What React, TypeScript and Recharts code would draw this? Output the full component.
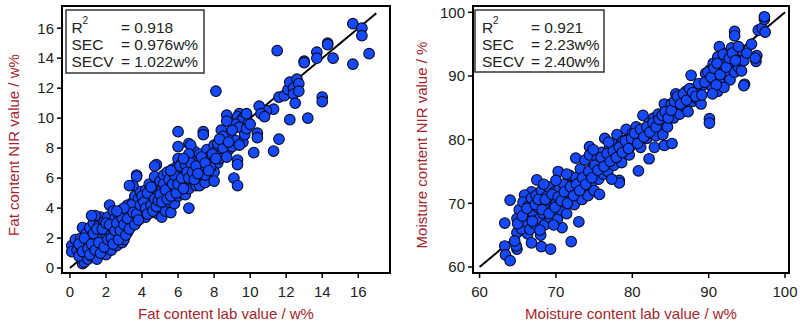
import React from 'react';
import { ScatterChart, Scatter, XAxis, YAxis, ReferenceArea, ReferenceLine } from 'recharts';

const FONT = '"Liberation Sans", Arial, Helvetica, sans-serif';
const TITLE_RED = '#a3262b';
const DOT_BLUE = '#1449ff';

// Fat: [lab value, NIR value] in w%
const fatPoints: [number, number][] = [
  [0.1, 1.5], [0.1, 1.1], [0.3, 1.9], [0.7, 0.3], [0.8, 0.4], [0.4, 1.2], [0.5, 0.8], [0.6, 1.4],
  [0.6, 2.0], [0.7, 2.7], [0.8, 1.6], [0.9, 1.0], [0.9, 2.3], [1.0, 0.6], [1.0, 1.8], [1.1, 1.2],
  [1.1, 2.7], [1.2, 0.8], [1.2, 2.1], [1.3, 1.5], [1.3, 3.0], [1.4, 0.9], [1.4, 2.4], [1.5, 1.9],
  [1.5, 0.6], [1.6, 2.8], [1.6, 1.3], [1.7, 3.4], [1.7, 2.2], [1.8, 1.0], [1.8, 1.7], [1.9, 2.5],
  [1.9, 3.1], [2.0, 1.4], [2.0, 2.0], [2.0, 0.9], [1.4, 3.5], [1.2, 3.5], [2.2, 4.2],
  [2.1, 2.8], [2.1, 3.4], [2.2, 1.6], [2.2, 2.3], [2.3, 3.0], [2.3, 1.2], [2.4, 3.8], [2.4, 2.6],
  [2.5, 1.9], [2.5, 3.3], [2.6, 2.2], [2.6, 1.5], [2.7, 3.6], [2.7, 2.8], [2.8, 2.0], [2.8, 3.1],
  [2.9, 1.7], [2.9, 3.9], [3.0, 2.5], [3.0, 3.4], [3.0, 1.9], [3.1, 2.9], [3.1, 3.7], [3.2, 4.2],
  [3.2, 2.4], [3.3, 3.2], [3.3, 4.0], [3.4, 2.8], [3.4, 3.6], [3.5, 4.4], [3.5, 3.0], [3.6, 4.8],
  [3.6, 3.4], [3.7, 4.0], [3.7, 3.1], [3.8, 4.6], [3.8, 3.8], [3.9, 3.3], [3.9, 5.1], [4.0, 4.2],
  [4.0, 3.6], [3.7, 6.2], [3.7, 6.1], [3.5, 5.5], [3.3, 5.5], [4.8, 6.9], [4.7, 6.8],
  [4.1, 4.8], [4.1, 3.9], [4.2, 3.4], [4.2, 5.2], [4.3, 4.4], [4.4, 4.0], [4.4, 5.6], [4.5, 4.7],
  [4.5, 3.7], [4.6, 5.0], [4.6, 4.3], [4.7, 6.1], [4.7, 3.9], [4.8, 5.4], [4.8, 4.6], [4.9, 3.6],
  [4.9, 5.0], [5.0, 4.2], [5.0, 5.8], [5.0, 4.0], [5.1, 5.2], [5.1, 3.4], [5.2, 4.5], [5.2, 6.2],
  [5.3, 4.8], [5.3, 3.8], [5.4, 5.6], [5.4, 6.4], [5.5, 4.4], [5.5, 5.1], [5.6, 3.7], [5.6, 5.9],
  [5.7, 4.9], [5.7, 6.6], [5.8, 5.3], [5.8, 4.3], [5.9, 6.0], [5.9, 5.6], [6.0, 4.8], [6.0, 6.9],
  [6.0, 7.3], [6.1, 5.4], [6.1, 6.3], [6.2, 5.0], [6.2, 7.0], [6.3, 5.9], [6.3, 6.6], [6.4, 4.9],
  [6.4, 6.2], [6.5, 7.4], [6.5, 5.6], [6.6, 6.8], [6.6, 5.3], [6.7, 6.1], [6.8, 7.2], [6.8, 5.8],
  [6.9, 6.5], [6.9, 7.8], [7.0, 6.0], [7.0, 5.5], [6.6, 4.0], [7.2, 5.5], [7.5, 5.7],
  [7.4, 9.1], [7.4, 8.9], [6.0, 9.1], [6.0, 8.1], [6.6, 8.3], [6.7, 8.2], [6.6, 7.6],
  [7.1, 7.0], [7.2, 6.4], [7.2, 7.6], [7.3, 6.8], [7.4, 7.3], [7.5, 6.2], [7.6, 7.9], [7.7, 7.1],
  [7.8, 7.5], [7.9, 6.9], [8.0, 7.7], [8.0, 8.2], [8.2, 8.0], [8.8, 7.9], [8.4, 7.6], [8.2, 7.0],
  [8.0, 6.4], [8.0, 5.8], [7.8, 6.7], [8.2, 8.3], [8.3, 7.3], [8.5, 8.0], [8.6, 8.6], [8.7, 7.4],
  [8.9, 8.9], [9.0, 8.1], [8.1, 11.8], [9.4, 10.3], [9.3, 10.1], [9.6, 10.0], [9.5, 9.8],
  [9.2, 9.6], [8.7, 10.2], [8.7, 9.8], [8.4, 9.2], [8.5, 8.8], [9.2, 8.5], [9.6, 8.4], [9.4, 8.2],
  [9.3, 7.2], [9.3, 6.9], [9.1, 6.0], [9.3, 5.5], [9.4, 9.4], [9.7, 8.9], [9.9, 9.7],
  [10.4, 9.0], [10.4, 8.7], [10.2, 7.7], [9.8, 9.3], [11.3, 10.6], [10.9, 10.5], [10.5, 10.8],
  [10.6, 10.3], [10.8, 10.1], [11.6, 8.6], [11.3, 7.8], [11.5, 14.5], [11.6, 11.4], [11.9, 11.5],
  [12.1, 11.9], [12.2, 12.4], [12.4, 12.0], [12.4, 11.6], [12.6, 12.6], [12.7, 12.3], [12.7, 11.8],
  [12.5, 11.0], [12.2, 9.9], [13.2, 10.0], [14.0, 11.4], [14.0, 11.1], [13.0, 13.8], [13.0, 13.7],
  [13.7, 14.4], [13.7, 14.0], [14.3, 15.0], [14.3, 14.9], [14.6, 14.0], [15.7, 16.3], [16.2, 16.0],
  [16.2, 15.5], [15.7, 13.6], [16.6, 14.3],
  [0.5, 1.6], [0.7, 1.1], [0.8, 2.0], [1.0, 1.3], [1.1, 0.9], [1.2, 1.6], [1.3, 2.3], [1.4, 1.2],
  [1.5, 2.6], [1.6, 1.7], [1.7, 1.0], [1.8, 2.6], [1.9, 1.4], [2.0, 3.0], [2.1, 1.9], [2.2, 2.9],
  [2.3, 2.0], [2.4, 1.6], [2.5, 2.5], [2.6, 3.0], [2.7, 1.9], [2.8, 2.5], [2.9, 3.3], [3.0, 2.9],
  [3.1, 2.2], [3.2, 3.3], [3.3, 2.6], [3.4, 4.2], [3.5, 3.7], [3.6, 2.9], [3.7, 3.6], [3.8, 3.2],
  [3.9, 4.2], [4.0, 4.8], [4.1, 4.4], [4.2, 4.0], [4.3, 3.6], [4.3, 5.0], [4.5, 4.2], [4.6, 3.8],
  [4.7, 4.6], [4.8, 4.1], [4.9, 4.5], [5.0, 4.9], [5.1, 4.4], [5.2, 5.6], [5.3, 5.2], [5.4, 4.6],
  [5.5, 5.9], [5.6, 4.8], [5.7, 5.6], [5.8, 6.2], [5.9, 5.0], [6.0, 5.6], [6.1, 6.8], [6.2, 6.0],
  [6.3, 5.3], [6.4, 6.9], [6.5, 6.4], [6.6, 6.0], [6.7, 7.0], [6.8, 6.4], [6.9, 5.9], [7.0, 6.8],
  [7.1, 6.3], [7.3, 7.4], [7.5, 7.0], [7.7, 6.5], [7.9, 7.6], [8.1, 7.3], [8.3, 8.6], [8.8, 8.4],
  [9.0, 9.2], [9.8, 10.3], [10.0, 9.6], [3.0, 4.0], [2.6, 3.8], [4.5, 5.4], [5.6, 6.5], [6.3, 7.3],
];

// Moisture: [lab value, NIR value] in w%
const moisturePoints: [number, number][] = [
  [63.3, 63.3], [63.4, 61.9], [64.0, 61.0], [63.3, 66.9], [64.9, 62.8], [64.8, 63.3], [64.0, 70.5],
  [64.9, 65.4], [66.3, 65.2], [66.8, 63.8], [68.1, 63.2], [69.3, 62.8], [72.0, 64.0], [68.0, 65.0],
  [70.8, 66.2], [73.0, 67.1], [67.5, 73.7], [66.8, 71.8], [65.9, 71.3], [70.3, 75.0], [72.6, 77.1],
  [64.6, 64.1], [64.9, 67.6], [65.2, 69.0], [65.5, 66.0], [65.7, 70.2], [66.0, 68.1], [66.2, 67.0],
  [66.4, 69.6], [66.6, 65.9], [66.8, 70.8], [67.0, 68.5], [67.2, 66.8], [67.4, 71.2], [67.6, 69.4],
  [67.8, 67.6], [68.0, 70.2], [68.1, 72.0], [68.3, 68.4], [68.5, 66.6], [68.7, 71.0], [68.9, 69.2],
  [69.0, 72.6], [69.2, 67.8], [69.4, 70.4], [69.6, 68.9], [69.8, 71.8], [70.0, 70.0], [70.2, 67.5],
  [70.4, 72.2], [70.6, 69.0], [70.8, 71.2], [71.0, 73.0], [71.2, 70.2], [71.4, 68.4], [71.6, 72.0],
  [71.8, 74.4], [72.0, 70.8], [72.2, 72.8], [72.4, 69.8], [72.6, 74.0], [72.8, 71.6], [73.0, 73.2],
  [73.2, 75.4], [73.4, 70.6], [73.6, 72.4], [73.8, 76.8], [74.0, 74.0], [74.2, 71.2], [74.4, 78.9],
  [74.4, 77.6], [74.6, 73.0], [74.8, 75.6], [75.0, 72.0], [75.2, 74.6], [75.4, 77.0], [75.6, 73.8],
  [75.8, 76.0], [76.0, 78.0], [76.2, 74.6], [76.4, 80.2], [76.6, 76.6], [76.8, 75.0], [77.0, 78.6],
  [77.2, 77.0], [77.4, 79.4], [77.6, 76.0], [77.8, 78.2], [78.0, 80.8], [78.2, 77.4], [78.4, 79.0],
  [78.6, 76.4], [78.8, 79.8], [79.0, 78.0], [79.2, 81.6], [79.4, 80.0], [79.6, 77.6], [79.8, 79.0],
  [80.0, 81.0], [78.3, 73.6], [78.3, 73.2], [80.8, 75.1], [82.2, 77.0], [82.9, 78.8], [84.2, 79.1],
  [85.2, 79.4], [80.2, 79.6], [80.5, 82.0], [80.8, 80.4], [81.1, 78.8], [81.4, 83.8], [81.6, 81.4],
  [81.9, 80.2], [82.2, 82.6], [82.5, 81.0], [82.8, 83.4], [83.1, 80.6], [83.4, 84.0], [83.7, 82.2],
  [84.0, 80.8], [84.2, 85.6], [84.4, 83.0], [84.6, 82.0], [84.8, 84.4], [85.1, 85.6], [85.4, 83.4],
  [85.7, 87.2], [86.0, 85.0], [86.2, 84.0], [86.5, 86.4], [86.8, 85.2], [87.0, 87.6], [87.3, 84.4],
  [87.6, 86.8], [87.9, 86.0], [88.2, 88.0], [87.7, 90.1], [88.5, 86.4], [88.8, 87.6], [89.0, 85.6],
  [89.3, 88.6], [89.6, 90.4], [89.9, 89.2], [90.1, 83.3], [90.1, 82.6], [90.2, 91.0], [90.4, 88.4],
  [90.6, 92.0], [90.8, 89.6], [91.0, 90.6], [91.2, 93.0], [91.2, 87.6], [91.4, 94.6], [91.6, 91.2],
  [91.8, 89.0], [92.0, 92.6], [92.2, 90.2], [92.4, 93.6], [92.6, 91.6], [92.8, 89.4], [93.0, 94.4],
  [93.2, 92.0], [93.4, 90.6], [93.6, 93.0], [93.9, 91.4], [94.2, 94.0], [94.6, 92.4], [95.0, 93.6],
  [93.4, 97.0], [93.4, 96.3], [95.6, 95.0], [94.7, 88.7], [94.6, 88.5], [94.3, 90.8], [96.3, 93.2],
  [96.2, 92.3], [96.1, 92.8], [96.5, 97.2], [97.0, 97.5], [97.4, 96.9], [97.3, 98.9], [97.3, 99.3],
  [65.0, 66.8], [65.6, 68.0], [66.2, 69.2], [66.9, 67.2], [67.3, 69.8], [67.7, 70.6], [68.2, 69.0],
  [68.6, 70.6], [69.1, 68.4], [69.5, 71.4], [69.9, 69.4], [70.3, 71.0], [70.7, 70.4], [71.1, 71.8],
  [71.5, 70.0], [71.9, 72.6], [72.3, 71.2], [72.7, 73.0], [73.1, 72.0], [73.5, 74.0], [73.9, 73.0],
  [74.3, 75.0], [74.7, 74.0], [75.1, 76.0], [75.5, 75.2], [75.9, 77.2], [76.3, 75.8], [76.7, 77.8],
  [77.1, 76.6], [77.5, 78.2], [77.9, 77.2], [78.3, 78.8], [78.7, 78.0], [79.1, 79.8], [79.5, 78.6],
  [79.9, 80.2], [80.3, 81.0], [80.7, 79.4], [81.1, 81.6], [81.5, 80.4], [81.9, 82.0], [82.3, 81.2],
  [82.7, 82.6], [83.1, 82.0], [83.5, 83.2], [83.9, 83.8], [84.3, 84.4], [84.7, 83.4], [85.1, 84.6],
  [85.5, 86.0], [85.9, 86.8], [86.3, 85.6], [86.7, 87.2], [87.1, 86.2], [87.5, 88.0], [87.9, 87.4],
  [88.3, 86.8], [88.7, 88.8], [89.1, 87.0], [89.5, 89.0], [89.9, 90.6], [90.3, 89.8], [90.7, 91.2],
  [91.1, 92.0], [91.5, 90.2], [91.9, 93.4], [92.3, 91.4], [92.7, 92.8], [93.1, 93.6], [93.5, 92.4],
  [93.9, 94.6], [92.0, 88.2], [91.0, 88.6], [90.5, 87.2], [68.4, 73.0], [70.0, 73.6], [71.4, 74.6],
  [69.7, 66.6], [67.9, 65.8], [75.7, 71.4], [77.3, 73.8], [76.9, 79.6], [74.9, 78.4],
];

const fatTicks = [0, 2, 4, 6, 8, 10, 12, 14, 16];
const moistureTicks = [60, 70, 80, 90, 100];

const fatStats = [
  { label: 'R', sup: '2', value: '= 0.918' },
  { label: 'SEC', sup: '', value: '= 0.976w%' },
  { label: 'SECV', sup: '', value: '= 1.022w%' },
];
const moistureStats = [
  { label: 'R', sup: '2', value: '= 0.921' },
  { label: 'SEC', sup: '', value: '= 2.23w%' },
  { label: 'SECV', sup: '', value: '= 2.40w%' },
];

const toRows = (pts: [number, number][]) => pts.map(([x, y]) => ({ x, y }));

const Dot = (props: any) => (
  <circle cx={props.cx} cy={props.cy} r={5.3} fill={DOT_BLUE} stroke="#0b0b20" strokeWidth={1.1} />
);

type PanelProps = {
  left: number;
  points: [number, number][];
  xDomain: [number, number];
  yDomain: [number, number];
  xTicks: number[];
  yTicks: number[];
  diag: [number, number];
  xTitle: string;
  yTitle: string;
  axisWidth: number;
  rightMargin: number;
  yTitleX: number;
  stats: { label: string; sup: string; value: string }[];
  box: { x: number; y: number; w: number; h: number; labelX: number; valueX: number };
};

const Panel = (p: PanelProps) => {
  const tickStyle = { fill: '#222', fontSize: 15, fontFamily: FONT };
  const yTitle = () => {
    const cy = 145;
    return (
      <text
        x={p.yTitleX}
        y={cy}
        transform={`rotate(-90 ${p.yTitleX} ${cy})`}
        textAnchor="middle"
        dominantBaseline="central"
        fill={TITLE_RED}
        fontSize={15}
        fontFamily={FONT}
      >
        {p.yTitle}
      </text>
    );
  };
  const rowY = [32.5, 49.5, 66.5];
  return (
    <div style={{ position: 'absolute', left: p.left, top: 0, width: 400, height: 332 }}>
      <ScatterChart width={400} height={332} margin={{ top: 6, right: p.rightMargin, bottom: 0, left: 0 }}>
        <XAxis
          type="number"
          dataKey="x"
          domain={p.xDomain}
          ticks={p.xTicks}
          allowDataOverflow
          height={59}
          tickSize={5}
          tickMargin={8}
          axisLine={false}
          tickLine={{ stroke: '#000', strokeWidth: 1.5 }}
          tick={tickStyle}
          label={{ value: p.xTitle, position: 'insideBottom', offset: 13, fill: TITLE_RED, fontSize: 15, fontFamily: FONT }}
        />
        <YAxis
          type="number"
          dataKey="y"
          domain={p.yDomain}
          ticks={p.yTicks}
          allowDataOverflow
          width={p.axisWidth}
          tickSize={5}
          tickMargin={3}
          axisLine={false}
          tickLine={{ stroke: '#000', strokeWidth: 1.5 }}
          tick={tickStyle}
          label={yTitle}
        />
        <ReferenceArea
          x1={p.xDomain[0]}
          x2={p.xDomain[1]}
          y1={p.yDomain[0]}
          y2={p.yDomain[1]}
          fill="none"
          fillOpacity={0}
          stroke="#000"
          strokeWidth={2}
          ifOverflow="visible"
        />
        <Scatter data={toRows(p.points)} shape={Dot} isAnimationActive={false} />
        <ReferenceLine
          segment={[{ x: p.diag[0], y: p.diag[0] }, { x: p.diag[1], y: p.diag[1] }]}
          stroke="#000"
          strokeWidth={2}
        />
      </ScatterChart>
      <svg width={400} height={332} style={{ position: 'absolute', left: 0, top: 0, pointerEvents: 'none' }}>
        <rect x={p.box.x} y={p.box.y} width={p.box.w} height={p.box.h} fill="#fff" stroke="#333" strokeWidth={1.5} />
        {p.stats.map((s, i) => (
          <g key={s.label} fontFamily={FONT} fill="#222" fontSize={15.5}>
            <text x={p.box.labelX} y={rowY[i]}>{s.label}</text>
            {s.sup && (
              <text x={p.box.labelX + 11} y={rowY[i] - 9} fontSize={10}>{s.sup}</text>
            )}
            <text x={p.box.valueX} y={rowY[i]}>{s.value}</text>
          </g>
        ))}
      </svg>
    </div>
  );
};

export default function App() {
  return (
    <div style={{ position: 'absolute', left: 0, top: 0, width: 800, height: 332, background: '#fff' }}>
      <Panel
        left={0}
        points={fatPoints}
        xDomain={[-0.44, 17.76]}
        yDomain={[-0.33, 17.48]}
        xTicks={fatTicks}
        yTicks={fatTicks}
        diag={[0, 17]}
        xTitle="Fat content lab value / w%"
        yTitle="Fat content NIR value / w%"
        axisWidth={62}
        rightMargin={10}
        yTitleX={13}
        stats={fatStats}
        box={{ x: 66, y: 10, w: 138, h: 63, labelX: 71.5, valueX: 121 }}
      />
      <Panel
        left={400}
        points={moisturePoints}
        xDomain={[59.14, 100.52]}
        yDomain={[59.06, 100.99]}
        xTicks={moistureTicks}
        yTicks={moistureTicks}
        diag={[60, 100]}
        xTitle="Moisture content lab value / w%"
        yTitle="Moisture content NIR value / %"
        axisWidth={73}
        rightMargin={11}
        yTitleX={21.5}
        stats={moistureStats}
        box={{ x: 75, y: 10, w: 129, h: 62, labelX: 82, valueX: 131 }}
      />
    </div>
  );
}
